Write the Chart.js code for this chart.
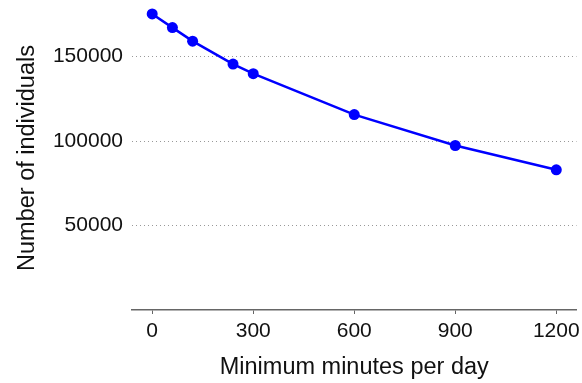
<!DOCTYPE html>
<html>
<head>
<meta charset="utf-8">
<script src="https://cdn.jsdelivr.net/npm/chart.js@4"></script>
<style>
  html, body { margin: 0; padding: 0; background: #fff; }
  #wrap { width: 582px; height: 383px; }
</style>
</head>
<body>
<div id="wrap"><canvas id="myChart" width="582" height="383"></canvas></div>
<script>
const minutes = [0, 60, 120, 240, 300, 600, 900, 1200];
const individuals = [175300, 167200, 159200, 145600, 139900, 115700, 97400, 83000];
const xTicks = [0, 300, 600, 900, 1200];
const yTicks = [50000, 100000, 150000];

const points = minutes.map(function (m, i) {
    return { x: m, y: individuals[i] };
});

function plain(v) {
    return String(v);
}

const config = {
    type: 'line',
    data: {
        datasets: [{
            data: points,
            borderColor: '#0000ff',
            backgroundColor: '#0000ff',
            borderWidth: 2.5,
            pointRadius: 5.5,
            pointBorderWidth: 0,
            tension: 0,
            clip: false
        }]
    },
    options: {
        responsive: false,
        animation: false,
        layout: { padding: { top: 6, right: 5, left: 0, bottom: 0 } },
        plugins: { legend: { display: false }, tooltip: { enabled: false } },
        scales: {
            x: {
                type: 'linear',
                min: -60,
                max: 1260,
                afterBuildTicks: function (axis) {
                    axis.ticks = xTicks.map(function (v) { return { value: v }; });
                },
                afterFit: function (axis) {
                    axis.height = 73;
                    axis.paddingLeft = 0;
                    axis.paddingRight = 0;
                },
                grid: { drawOnChartArea: false, drawTicks: true, tickLength: 4, color: '#666', lineWidth: 1 },
                border: { display: true, color: '#666', width: 1.5 },
                ticks: {
                    padding: 5,
                    color: '#111',
                    maxRotation: 0,
                    callback: plain,
                    font: { family: 'Liberation Sans', size: 21 }
                },
                title: {
                    display: true,
                    text: 'Minimum minutes per day',
                    color: '#111',
                    padding: { top: 0, bottom: 1 },
                    font: { family: 'Liberation Sans', size: 23.5 }
                }
            },
            y: {
                min: 0,
                max: 180000,
                afterBuildTicks: function (axis) {
                    axis.ticks = yTicks.map(function (v) { return { value: v }; });
                },
                afterFit: function (axis) {
                    axis.width = 132;
                    axis.paddingTop = 0;
                    axis.paddingBottom = 0;
                },
                grid: { drawTicks: false, color: '#999', lineWidth: 1 },
                border: { display: false, dash: [1, 3] },
                ticks: {
                    padding: 9,
                    color: '#111',
                    callback: plain,
                    font: { family: 'Liberation Sans', size: 21 }
                },
                title: {
                    display: true,
                    text: 'Number of individuals',
                    color: '#111',
                    padding: { top: 13, bottom: 0 },
                    font: { family: 'Liberation Sans', size: 23.5 }
                }
            }
        }
    }
};

const myChart = new Chart(document.getElementById('myChart'), config);
</script>
</body>
</html>
